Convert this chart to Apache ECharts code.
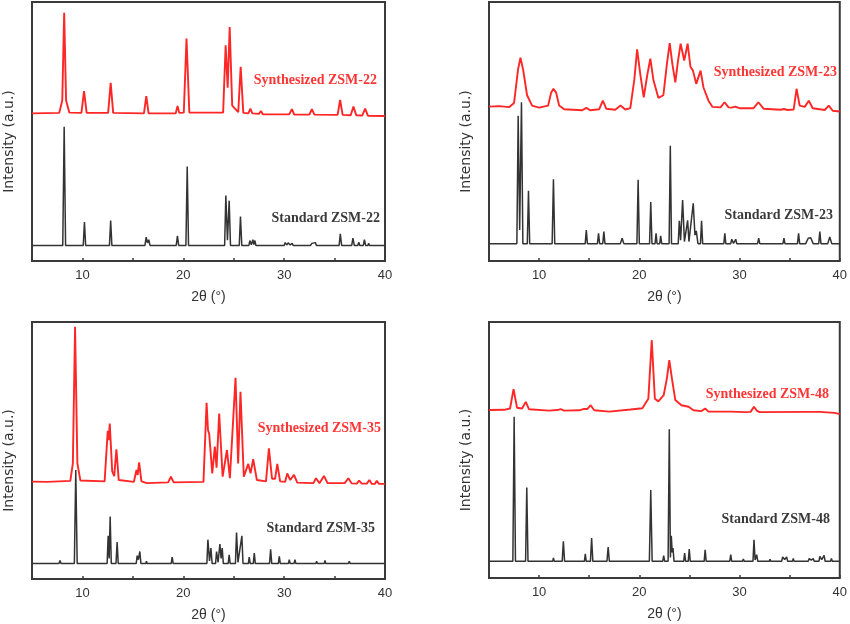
<!DOCTYPE html>
<html>
<head>
<meta charset="utf-8">
<script src="https://cdn.jsdelivr.net/npm/echarts@6/dist/echarts.min.js"></script>
<style>html,body{margin:0;padding:0;background:#fff;}#c{width:850px;height:624px;}</style>
</head>
<body>
<div id="c"></div>
<script>
// ---- Data (2θ in degrees, intensity in arbitrary units with stacking offset as plotted) ----
const xTicks = [10, 20, 30, 40];
const panelNames = ['ZSM-22', 'ZSM-23', 'ZSM-35', 'ZSM-48'];

const std22 = [[5,6.0],
[8.05,6.0],[8.19,51.8],[8.33,6.0],
[10.08,6.0],[10.2,15.0],[10.32,6.0],
[12.68,6.0],[12.8,15.6],[12.92,6.0],
[16.2,6.0],[16.32,9.2],[16.45,7.0],[16.58,8.2],[16.7,6.0],
[19.3,6.0],[19.42,9.7],[19.54,6.0],
[20.26,6.0],[20.39,36.5],[20.52,6.0],
[24.1,6.0],[24.22,25.3],[24.38,8],[24.55,23.3],[24.68,6.0],
[25.55,6.0],[25.67,17.2],[25.8,6.0],
[26.5,6.0],[26.6,7.9],[26.75,6.3],[26.9,8.2],[27.0,6.3],[27.1,7.9],[27.2,6.0],
[27.6,6.0],[27.7,6.7],[27.8,6.0],
[30.0,6.0],[30.1,7.1],[30.25,6.2],[30.4,7.0],[30.6,6.2],[30.8,6.8],[30.9,6.0],
[32.6,6.0],[32.75,6.8],[32.9,6.2],[33.1,7.1],[33.2,6.0],
[35.45,6.0],[35.57,10.5],[35.7,6.0],
[36.7,6.0],[36.82,8.8],[36.95,6.0],
[37.3,6.0],[37.4,7.3],[37.5,6.0],
[37.85,6.0],[37.96,8.2],[38.08,6.0],
[38.3,6.0],[38.38,6.8],[38.46,6.0],
[40,6.0]];

const syn22 = [[5,57.0],
[7.7,57.2],[8.0,62],[8.19,95.8],[8.38,62],[8.7,57.3],
[9.9,57.2],[10.16,65.6],[10.42,57.2],
[12.55,57.2],[12.8,68.8],[13.05,57.2],
[16.1,57.0],[16.33,63.7],[16.56,57.0],
[19.25,57.0],[19.43,59.9],[19.6,57.2],
[20.05,57.3],[20.32,85.9],[20.6,57.3],
[23.95,57.3],[24.2,83.3],[24.4,66.9],[24.6,90.3],[24.85,60],[25.45,57.5],[25.69,75.0],[25.95,57.2],
[26.45,57.0],[26.65,58.8],[26.85,57.0],
[27.5,56.8],[27.7,57.9],[27.9,56.6],
[30.5,56.6],[30.77,58.6],[31.0,56.5],
[32.5,56.5],[32.75,58.6],[33.0,56.5],
[35.3,56.4],[35.55,62.2],[35.8,56.4],
[36.6,56.3],[36.87,59.6],[37.15,56.3],
[37.75,56.2],[38.03,58.8],[38.3,56.1],
[40,56.0]];

const std23 = [[5,6.7],
[7.78,6.7],[7.91,56.1],[8.06,12],[8.24,61.3],[8.38,6.7],
[8.82,6.7],[8.94,27.1],[9.06,6.7],
[11.3,6.7],[11.43,31.6],[11.56,6.7],
[14.6,6.7],[14.71,11.9],[14.82,6.7],
[15.82,6.7],[15.93,10.7],[16.04,6.7],
[16.35,6.7],[16.46,11.4],[16.57,6.7],
[18.1,6.7],[18.29,8.8],[18.45,6.7],
[19.76,6.7],[19.88,31.4],[20.0,6.7],
[21.02,6.7],[21.14,22.8],[21.26,6.7],
[21.57,6.7],[21.67,10.7],[21.77,6.7],
[22.03,6.7],[22.13,9.7],[22.23,6.7],
[22.97,6.7],[23.09,44.5],[23.21,6.7],
[23.88,6.7],[23.99,15.5],[24.12,8],[24.32,23.5],[24.5,7.5],[24.82,15.7],[24.95,7.5],[25.38,22.3],[25.55,10],[25.68,11.6],[25.85,6.7],
[26.1,6.7],[26.21,15.5],[26.32,6.7],
[28.43,6.7],[28.53,10.7],[28.63,6.7],
[29.12,6.7],[29.22,8.4],[29.4,6.8],[29.62,8.4],[29.72,6.7],
[31.8,6.7],[31.91,8.8],[32.02,6.7],
[34.33,6.7],[34.43,8.8],[34.53,6.7],
[35.78,6.7],[35.89,10.7],[36.0,6.7],
[36.6,6.7],[36.85,8.8],[37.1,9.0],[37.35,6.7],
[37.9,6.7],[38.01,11.4],[38.12,6.7],
[38.8,6.7],[39.0,9.3],[39.2,6.7],
[40,6.7]];

const syn23 = [[5,59.6],[6.0,59.8],[7.0,59.4],
[7.5,61],[7.9,74],[8.14,78.5],[8.4,74],[8.8,64],[9.3,60],[10.0,59.2],
[10.9,60],[11.2,65],[11.43,66.5],[11.7,65],[12.0,60],[12.5,58.6],
[14.3,58.2],[14.71,59.1],[15.1,58.2],
[16.0,58.6],[16.36,61.9],[16.7,58.8],
[17.6,58.4],[18.12,60.0],[18.6,58.5],
[19.1,59],[19.5,70],[19.78,81.7],[20.1,72],[20.44,63.2],[20.8,72],[21.1,78.1],[21.4,70],[21.9,63],[22.4,64],[22.75,76],[23.03,84.1],[23.3,76],[23.59,69.0],[23.85,77],[24.12,83.9],[24.48,77.4],[24.82,83.9],[25.1,75],[25.35,73.5],[25.68,68.4],[26.11,73.5],[26.4,67],[26.9,61.9],[27.3,59.5],
[28.1,59.3],[28.5,61.3],[28.9,59.3],
[29.2,59.2],[29.56,59.6],[30.0,59.0],
[31.4,59.0],[31.88,61.3],[32.4,58.8],
[34.1,58.4],[34.43,58.7],[34.8,58.3],
[35.4,58.5],[35.69,66.5],[36.0,60],[36.5,59.5],[36.91,61.9],[37.3,59],
[38.5,58.3],[38.9,60.0],[39.3,58.0],
[40,57.7]];

const std35 = [[5,6.0],
[7.68,6.0],[7.78,7.2],[7.88,6.0],
[9.2,6.0],[9.34,42.4],[9.48,6.0],
[12.45,6.0],[12.55,16.8],[12.65,8],[12.75,24.3],[12.86,6.0],
[13.33,6.0],[13.44,14.4],[13.55,6.0],
[15.33,6.0],[15.43,9.1],[15.55,7.5],[15.69,10.7],[15.8,6.0],
[16.28,6.0],[16.35,6.9],[16.42,6.0],
[18.8,6.0],[18.9,8.5],[19.0,6.0],
[22.34,6.0],[22.44,15.3],[22.6,7],[22.74,12.0],[22.86,6.0],
[23.2,6.0],[23.3,10.7],[23.45,6.5],[23.63,13.6],[23.75,8],[23.86,12.0],[23.97,6.0],
[24.45,6.0],[24.55,9.4],[24.65,6.0],
[25.17,6.0],[25.28,18.1],[25.42,6.5],[25.81,16.8],[25.92,6.0],
[26.45,6.0],[26.54,8.5],[26.64,6.0],
[26.94,6.0],[27.04,10.1],[27.14,6.0],
[28.55,6.0],[28.66,11.6],[28.77,6.0],
[29.42,6.0],[29.52,8.8],[29.62,6.0],
[30.42,6.0],[30.51,7.5],[30.6,6.0],
[30.98,6.0],[31.07,7.5],[31.16,6.0],
[33.15,6.0],[33.22,6.9],[33.3,6.0],
[33.97,6.0],[34.05,7.2],[34.13,6.0],
[36.38,6.0],[36.46,6.9],[36.54,6.0],
[37.45,6.0],[37.52,6.7],[37.6,6.0],
[38.44,6.0],[38.51,6.7],[38.58,6.0],
[39.1,6.0],[39.18,6.7],[39.26,6.0],
[40,6.0]];

const syn35 = [[5,37.9],[6.5,37.8],
[8.8,38.2],[9.05,45],[9.27,98.1],[9.5,45],[9.8,38.3],
[12.2,38.0],[12.51,57.7],[12.6,54],[12.71,60.5],[12.95,42],[13.15,40],[13.37,50.5],[13.6,38.5],
[15.1,37.8],[15.36,42.4],[15.48,40.5],[15.62,45.4],[15.85,38.0],
[16.4,37.3],
[18.5,37.6],[18.77,39.8],[19.05,37.6],
[22.0,37.8],[22.31,68.6],[22.45,58],[22.57,56.4],[22.87,41.1],[23.13,51.5],[23.3,43.3],[23.56,64.4],[23.9,39.8],[24.33,50.2],[24.62,39.2],[25.18,78.3],[25.44,45.0],[25.67,72.8],[26.0,39.8],[26.44,44.8],[26.67,41.1],[26.93,46.6],[27.3,38.5],
[28.2,38.0],[28.49,50.8],[28.8,39],[29.1,39],[29.32,44.8],[29.6,38.0],
[30.1,37.8],[30.31,41.1],[30.6,38.5],[30.98,40.5],[31.3,37.5],
[32.9,37.3],[33.16,39.2],[33.5,37.3],[33.95,40.1],[34.3,37.3],
[36.0,37.3],[36.37,39.2],[36.7,37.2],
[37.2,37.1],[37.43,38.3],[37.7,37.1],
[38.2,37.1],[38.45,38.5],[38.7,37.0],
[39.0,37.0],[39.18,38.2],[39.4,37.0],
[40,37.0]];

const std48 = [[5,6.5],
[7.38,6.5],[7.51,63.0],[7.64,6.5],
[8.65,6.5],[8.77,35.3],[8.89,6.5],
[11.35,6.5],[11.43,7.8],[11.51,6.5],
[12.3,6.5],[12.42,14.3],[12.54,6.5],
[14.52,6.5],[14.61,9.4],[14.7,6.5],
[15.12,6.5],[15.24,15.6],[15.36,6.5],
[16.77,6.5],[16.89,12.1],[17.01,6.5],
[17.5,6.5],[17.59,7.1],[17.68,6.5],
[21.0,6.5],[21.14,34.4],[21.28,6.5],
[22.33,6.5],[22.43,8.7],[22.53,6.5],
[22.87,6.5],[22.99,58.1],[23.1,8],[23.19,16.5],[23.28,10],[23.36,11.7],[23.46,6.5],
[24.43,6.5],[24.52,9.7],[24.62,6.5],
[24.88,6.5],[24.98,11.3],[25.08,6.5],
[26.47,6.5],[26.57,11.0],[26.67,6.5],
[27.55,6.5],[27.63,7.1],[27.71,6.5],
[29.02,6.5],[29.12,9.1],[29.22,6.5],
[30.3,6.5],[30.38,7.4],[30.46,6.5],
[31.34,6.5],[31.44,14.9],[31.55,7],[31.71,9.1],[31.82,6.5],
[32.96,6.5],[33.04,7.3],[33.12,6.5],
[34.2,6.5],[34.3,8.2],[34.5,7.2],[34.7,8.2],[34.8,6.5],
[35.28,6.5],[35.36,7.6],[35.44,6.5],
[36.85,6.5],[36.95,7.6],[37.15,7],[37.35,7.6],[37.45,6.5],
[37.92,6.5],[38.01,8.4],[38.2,7.2],[38.44,8.8],[38.54,6.5],
[39.08,6.5],[39.17,7.6],[39.26,6.5],
[40,6.5]];

const syn48 = [[5,65.6],[6.5,65.7],
[7.1,66.2],[7.45,73.8],[7.8,66.5],[8.3,66.2],[8.67,68.8],[9.0,65.9],
[11.0,65.4],[11.8,65.6],[12.15,66.0],[12.5,65.4],
[14.0,65.5],[14.41,66.0],[14.8,66.0],[15.14,67.5],[15.5,65.5],
[17.0,65.0],[19.12,65.8],[20.3,66.3],[20.9,70],[21.24,92.9],[21.55,70],[21.9,69.0],[22.43,71.4],[22.75,78],[22.99,85.1],[23.25,78],[23.59,69.5],[24.2,67.5],
[24.92,66.9],[25.4,65.5],[26.2,65.2],[26.57,66.2],[26.9,65.0],
[29.12,65.0],[30.5,64.8],
[31.1,64.9],[31.44,66.9],[31.71,65.4],[32.0,64.8],
[36.52,64.9],[38.0,64.9],[39.5,64.5],
[40,64.0]];

const stdSeries = [std22, std23, std35, std48];
const synSeries = [syn22, syn23, syn35, syn48];

// ---- Layout ----
const RED = '#ff2626';
const DARK = '#333333';
const grids = [
  {left: 32, top: 2, width: 353, height: 259},
  {left: 489, top: 2, width: 353, height: 259},
  {left: 32, top: 322, width: 353, height: 257},
  {left: 489, top: 322, width: 353, height: 256}
];
// label anchor positions (right edge, vertical centre)
const synLabelPos = [[377, 80], [837, 72], [381, 428], [829, 394]];
const stdLabelPos = [[380, 218], [833, 215], [375, 528], [830, 519]];

const option = {
  animation: false,
  backgroundColor: '#fff',
  grid: grids.map(g => Object.assign({show: true, borderColor: '#3a3a3a', borderWidth: 2, backgroundColor: 'transparent'}, g)),
  xAxis: grids.map((g, i) => ({
    gridIndex: i, type: 'value', min: 5, max: 40, interval: 5,
    name: '2θ (°)', nameLocation: 'middle', nameGap: 29,
    nameTextStyle: {fontFamily: 'Liberation Sans', fontSize: 14, color: '#333'},
    axisLine: {show: false},
    axisTick: {show: true, inside: true, length: 3, lineStyle: {color: '#3a3a3a', width: 1.5}},
    axisLabel: {fontFamily: 'Liberation Sans', fontSize: 13, color: '#333', margin: 8,
      formatter: v => (xTicks.indexOf(v) >= 0 ? String(v) : '')},
    splitLine: {show: false}
  })),
  yAxis: grids.map((g, i) => ({
    gridIndex: i, type: 'value', min: 0, max: 100,
    name: 'Intensity (a.u.)', nameLocation: 'middle', nameGap: 16,
    nameTextStyle: {fontFamily: 'DejaVu Sans', fontSize: 14, color: '#333', padding: [0, 20, 0, 0]},
    axisLine: {show: false}, axisTick: {show: false}, axisLabel: {show: false},
    splitLine: {show: false}
  })),
  series: [],
  graphic: []
};

stdSeries.forEach((d, i) => {
  option.series.push({
    name: 'Standard ' + panelNames[i], type: 'line', xAxisIndex: i, yAxisIndex: i,
    data: d, showSymbol: false, symbol: 'none',
    lineStyle: {color: DARK, width: 1.5}, z: 2
  });
});
synSeries.forEach((d, i) => {
  option.series.push({
    name: 'Synthesized ' + panelNames[i], type: 'line', xAxisIndex: i, yAxisIndex: i,
    data: d, showSymbol: false, symbol: 'none',
    lineStyle: {color: RED, width: 1.9}, z: 3
  });
});
panelNames.forEach((n, i) => {
  option.graphic.push({
    type: 'text', x: synLabelPos[i][0], y: synLabelPos[i][1],
    style: {text: 'Synthesized ' + n, fill: '#ff3535', font: 'bold 14px "Liberation Serif"',
      textAlign: 'right', textVerticalAlign: 'middle'}
  });
  option.graphic.push({
    type: 'text', x: stdLabelPos[i][0], y: stdLabelPos[i][1],
    style: {text: 'Standard ' + n, fill: '#3a3a3a', font: 'bold 14px "Liberation Serif"',
      textAlign: 'right', textVerticalAlign: 'middle'}
  });
});

const chart = echarts.init(document.getElementById('c'), null, {renderer: 'canvas'});
chart.setOption(option);
</script>
</body>
</html>
